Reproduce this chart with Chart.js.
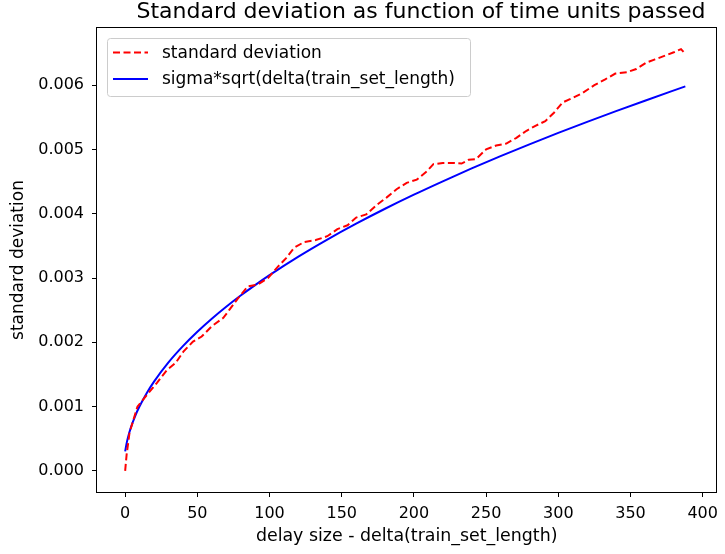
<!DOCTYPE html>
<html>
<head>
<meta charset="utf-8">
<script src="https://cdn.jsdelivr.net/npm/chart.js@4"></script>
<style>
  html, body { margin: 0; padding: 0; background: #fff; }
  #wrap { width: 725px; height: 554px; }
</style>
</head>
<body>
<div id="wrap"><canvas id="stdChart" width="725" height="554"></canvas></div>
<script>
const redX = [0, 1, 3, 8.5, 15, 22, 29, 35, 40.5, 47, 53, 60, 68, 72, 78, 85, 92, 99, 106, 111.5,
    117, 124, 132, 140, 147, 154, 160, 167, 174.5, 181, 188, 195, 202, 209, 213.5, 220, 227, 233,
    238, 243, 250, 257, 264, 271, 278, 284.5, 291, 297, 303, 310, 317, 325, 332.5, 339.5, 347.5,
    354, 361, 367, 373, 380, 385, 387];
const redY = [0.0000, 0.00025, 0.00059, 0.00100, 0.00118, 0.00137, 0.00157, 0.00168, 0.00186,
    0.00201, 0.00209, 0.00225, 0.00238, 0.00250, 0.00268, 0.00287, 0.00290, 0.00300, 0.00318,
    0.00331, 0.00347, 0.00356, 0.00359, 0.00365, 0.00376, 0.00382, 0.00394, 0.00399, 0.00414,
    0.00425, 0.00438, 0.00448, 0.00453, 0.00466, 0.00477, 0.00479, 0.00479, 0.00478, 0.00484,
    0.00485, 0.00500, 0.00506, 0.00509, 0.00518, 0.00529, 0.00537, 0.00544, 0.00557, 0.00573,
    0.00580, 0.00588, 0.00600, 0.00609, 0.00618, 0.00620, 0.00625, 0.00635, 0.00640, 0.00645,
    0.00651, 0.00656, 0.00651];

// sigma*sqrt curve (blue)
const blueX = [0, 1, 2, 4, 7, 10, 15, 20, 30, 40, 50, 60, 70, 80, 90, 100, 120, 140, 160, 180,
    200, 220, 240, 260, 280, 300, 320, 340, 360, 388];
const blueY = [0.000303, 0.000429, 0.000525, 0.000678, 0.000857, 0.001005, 0.001212, 0.001389,
    0.001687, 0.00194, 0.002164, 0.002367, 0.002553, 0.002727, 0.00289, 0.003045, 0.003333,
    0.003598, 0.003845, 0.004077, 0.004296, 0.004504, 0.004704, 0.004895, 0.005079, 0.005257,
    0.005429, 0.005595, 0.005757, 0.00598];

const xTicks = [0, 50, 100, 150, 200, 250, 300, 350, 400];
const yTicks = [0, 0.001, 0.002, 0.003, 0.004, 0.005, 0.006];

const chartTitle = 'Standard deviation as function of time units passed';
const FONT = 'DejaVu Sans';

// draws the title, the black frame and the matplotlib-like legend box
const frameAndLegend = {
    id: 'frameAndLegend',
    afterDraw(chart) {
        const { ctx, chartArea } = chart;
        ctx.save();

        ctx.font = '22px "' + FONT + '"';
        ctx.fillStyle = '#000';
        ctx.textAlign = 'center';
        ctx.textBaseline = 'middle';
        ctx.fillText(chartTitle, 421, 12);

        ctx.strokeStyle = '#000';
        ctx.lineWidth = 1;
        ctx.strokeRect(Math.round(chartArea.left) - 0.5, Math.round(chartArea.top) - 0.5,
            Math.round(chartArea.right - chartArea.left) + 1, Math.round(chartArea.bottom - chartArea.top) + 1);

        // legend
        const bx = chartArea.left + 10, by = chartArea.top + 10, bw = 363, bh = 58;
        ctx.beginPath();
        ctx.roundRect(bx + 0.5, by + 0.5, bw, bh, 3);
        ctx.fillStyle = 'rgba(255,255,255,0.8)';
        ctx.fill();
        ctx.strokeStyle = '#cccccc';
        ctx.stroke();

        ctx.font = '17px "' + FONT + '"';
        ctx.textBaseline = 'middle';
        ctx.textAlign = 'left';
        chart.data.datasets.forEach((ds, i) => {
            const yy = by + 14.5 + i * 26.5;
            ctx.beginPath();
            ctx.setLineDash(ds.borderDash || []);
            ctx.strokeStyle = ds.borderColor;
            ctx.lineWidth = ds.borderWidth;
            ctx.moveTo(bx + 6, yy);
            ctx.lineTo(bx + 41, yy);
            ctx.stroke();
            ctx.setLineDash([]);
            ctx.fillStyle = '#000';
            ctx.fillText(ds.label, bx + 55, yy + 1);
        });
        ctx.restore();
    }
};

new Chart(document.getElementById('stdChart'), {
    type: 'line',
    data: {
        datasets: [{
            label: 'standard deviation',
            data: redX.map((x, i) => ({ x: x, y: redY[i] })),
            borderColor: '#ff0000',
            borderWidth: 2,
            borderDash: [7, 3.5],
            pointRadius: 0,
            tension: 0,
            fill: false
        }, {
            label: 'sigma*sqrt(delta(train_set_length)',
            data: blueX.map((x, i) => ({ x: x, y: blueY[i] })),
            borderColor: '#0000ff',
            borderWidth: 2,
            pointRadius: 0,
            cubicInterpolationMode: 'monotone',
            fill: false
        }]
    },
    options: {
        responsive: false,
        animation: false,
        layout: { padding: { left: 0, right: 3, top: 28, bottom: 0 } },
        plugins: {
            legend: { display: false },
            tooltip: { enabled: false },
            title: { display: false }
        },
        scales: {
            x: {
                type: 'linear',
                min: -19.5,
                max: 409.5,
                afterBuildTicks: (scale) => { scale.ticks = xTicks.map(v => ({ value: v })); },
                afterFit: (scale) => { scale.height = 62; },
                grid: { drawOnChartArea: false, drawTicks: true, tickLength: 5, color: '#000' },
                border: { display: false },
                ticks: {
                    color: '#000',
                    padding: 7,
                    maxRotation: 0,
                    font: { family: FONT, size: 16 },
                    callback: (v) => String(v)
                },
                title: {
                    display: true,
                    text: 'delay size - delta(train_set_length)',
                    color: '#000',
                    font: { family: FONT, size: 17.4 },
                    padding: { top: 0, bottom: 7 }
                }
            },
            y: {
                type: 'linear',
                min: -0.000328,
                max: 0.006888,
                afterBuildTicks: (scale) => { scale.ticks = yTicks.map(v => ({ value: v })); },
                afterFit: (scale) => { scale.width = 97; },
                grid: { drawOnChartArea: false, drawTicks: true, tickLength: 5, color: '#000' },
                border: { display: false },
                ticks: {
                    color: '#000',
                    padding: 8,
                    font: { family: FONT, size: 16 },
                    callback: (v) => Number(v).toFixed(3)
                },
                title: {
                    display: true,
                    text: 'standard deviation',
                    color: '#000',
                    font: { family: FONT, size: 17 },
                    padding: { top: 8, bottom: 0 }
                }
            }
        }
    },
    plugins: [frameAndLegend]
});
</script>
</body>
</html>
